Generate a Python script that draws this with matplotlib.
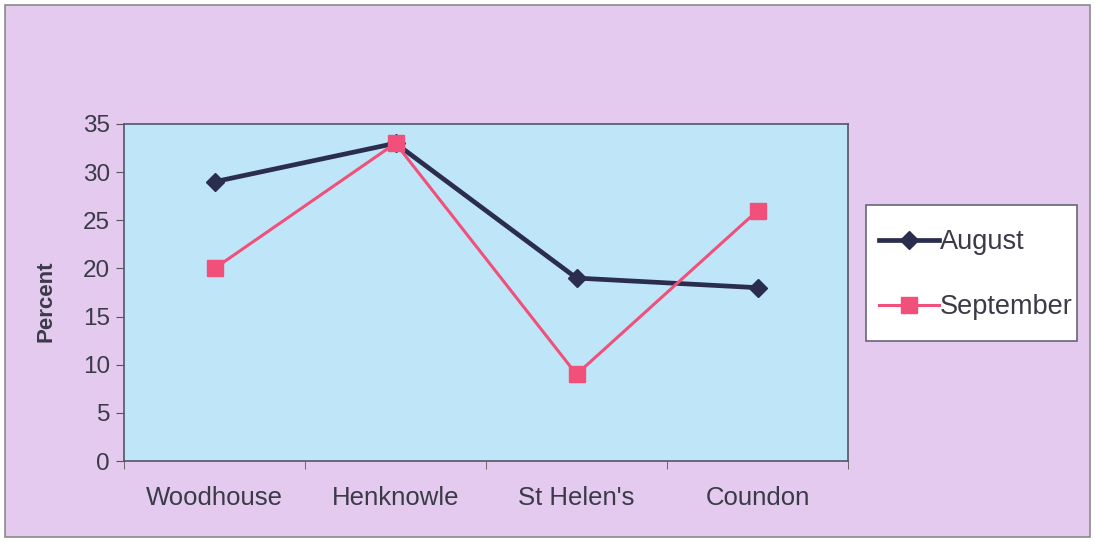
import matplotlib
matplotlib.use('Agg')
import matplotlib.pyplot as plt
from matplotlib.patches import Rectangle

sites = ['Woodhouse', 'Henknowle', "St Helen's", 'Coundon']
august = [29, 33, 19, 18]
september = [20, 33, 9, 26]

plt.rcParams['font.family'] = ['Liberation Sans', 'DejaVu Sans']
txt = '#3a3a48'

fig = plt.figure(figsize=(10.95, 5.42), dpi=100)
fig.patch.set_facecolor('white')
# outer chart area
fig.patches.append(Rectangle((5 / 1095, 5 / 542), 1085 / 1095, 532 / 542,
                             transform=fig.transFigure, facecolor='#E3CAEE',
                             edgecolor='#8a8a8a', linewidth=1.2, zorder=-5))
# legend box
fig.patches.append(Rectangle((866 / 1095, 1 - 341 / 542), 211 / 1095, 136 / 542,
                             transform=fig.transFigure, facecolor='white',
                             edgecolor='#666677', linewidth=1.2, zorder=-4))

ax = fig.add_axes([124 / 1095, 1 - 461 / 542, 724 / 1095, 337 / 542])
ax.set_facecolor('#BFE6F8')
x = range(len(sites))
ax.plot(x, august, color='#2B2D4F', linewidth=3.4, marker='D', markersize=9.5,
        label='August', zorder=3)
ax.plot(x, september, color='#F0507A', linewidth=2.2, marker='s', markersize=11,
        label='September', zorder=3)

ax.set_xlim(-0.5, 3.5)
ax.set_ylim(0, 35)
ax.set_yticks(range(0, 36, 5))
ax.set_xticks(x)
ax.set_xticklabels(sites)
ax.set_xticks([-0.5, 0.5, 1.5, 2.5, 3.5], minor=True)
ax.tick_params(axis='x', which='major', length=0, pad=18, labelsize=18.5, labelcolor=txt)
ax.tick_params(axis='x', which='minor', length=6, direction='out', color='#555')
ax.tick_params(axis='y', length=6, direction='out', color='#555', labelsize=17.5,
               labelcolor=txt, pad=4)
for s in ax.spines.values():
    s.set_color('#555566')
    s.set_linewidth(1.2)
ax.set_ylabel('Percent', fontsize=16, fontweight='bold', color=txt)
ax.yaxis.set_label_coords(-0.093, 0.475)

leg = ax.legend(loc='upper left', bbox_to_anchor=(879 / 1095, 1 - 229 / 542),
                bbox_transform=fig.transFigure, fontsize=19.5,
                frameon=False, handlelength=2.2, handletextpad=0.05,
                labelspacing=1.45, borderpad=0, borderaxespad=0)
for t in leg.get_texts():
    t.set_color(txt)

fig.savefig('out.png', dpi=100)
